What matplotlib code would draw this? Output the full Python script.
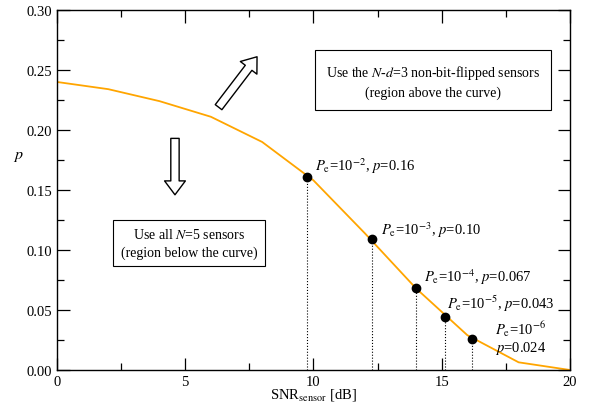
import numpy as np
import matplotlib.pyplot as plt
from matplotlib.ticker import MultipleLocator

plt.rcParams['font.family'] = ['Liberation Serif', 'DejaVu Serif']
plt.rcParams['mathtext.fontset'] = 'stix'

# curve p(SNR)
snr = [0, 2, 4, 6, 8, 10, 12, 14, 16, 18, 20]
p = [0.240, 0.234, 0.224, 0.211, 0.190, 0.158, 0.114, 0.068, 0.029, 0.0064, 0.0]

# operating points
pt_snr = [9.76, 12.27, 14.0, 15.13, 16.18]
pt_p = [0.161, 0.109, 0.068, 0.0444, 0.0258]
pt_labels = [r'$P_{\rm e}$=10$^{-2}$, $p$=0.16',
             r'$P_{\rm e}$=10$^{-3}$, $p$=0.10',
             r'$P_{\rm e}$=10$^{-4}$, $p$=0.067',
             r'$P_{\rm e}$=10$^{-5}$, $p$=0.043',
             '$P_{\\rm e}$=10$^{-6}$\n$p$=0.024']
label_xy = [(10.06, 0.167), (12.62, 0.113), (14.31, 0.074), (15.22, 0.052), (17.08, 0.016)]

fig = plt.figure(figsize=(5.9, 4.06), dpi=100)
ax = fig.add_axes([0.0966, 0.0862, 0.8694, 0.8868])

ax.plot(snr, p, color='orange', lw=1.3, zorder=2)
for x, y in zip(pt_snr, pt_p):
    ax.plot([x, x], [0, y], color='black', ls=':', lw=0.8, zorder=1)
ax.plot(pt_snr, pt_p, 'o', color='black', ms=6, zorder=3)
for (tx, ty), lab in zip(label_xy, pt_labels):
    ax.text(tx, ty, lab, fontsize=10.5, ha='left', va='baseline', linespacing=1.1)

ax.text(14.66, 0.241, 'Use the $N$-$d$=3 non-bit-flipped sensors\n(region above the curve)',
        fontsize=10, ha='center', va='center', linespacing=1.4,
        bbox=dict(boxstyle='square,pad=0.8', fc='white', ec='black', lw=0.8))
ax.text(5.15, 0.106, 'Use all $N$=5 sensors\n(region below the curve)',
        fontsize=10, ha='center', va='center', linespacing=1.4,
        bbox=dict(boxstyle='square,pad=0.55', fc='white', ec='black', lw=0.8))

arrow = dict(arrowstyle='simple,head_width=1.5,head_length=1.0,tail_width=0.6',
             fc='white', ec='black', lw=1.0, shrinkA=0, shrinkB=0)
ax.annotate('', xy=(4.6, 0.146), xytext=(4.6, 0.193), arrowprops=arrow)
ax.annotate('', xy=(7.8, 0.261), xytext=(6.3, 0.219), arrowprops=arrow)

ax.set_xlim(0, 20)
ax.set_ylim(0, 0.30)
ax.xaxis.set_major_locator(MultipleLocator(5))
ax.xaxis.set_minor_locator(MultipleLocator(2.5))
ax.yaxis.set_major_locator(MultipleLocator(0.05))
ax.yaxis.set_minor_locator(MultipleLocator(0.025))
ax.yaxis.set_major_formatter(plt.FormatStrFormatter('%.2f'))
ax.tick_params(which='both', direction='in', top=True, right=True, labelsize=10.5)
ax.tick_params(which='major', length=9, width=0.9)
ax.tick_params(which='minor', length=5, width=0.9)
for s in ax.spines.values():
    s.set_linewidth(1.0)

ax.set_xlabel(r'SNR$_{\rm sensor}$ [dB]', fontsize=10.5, labelpad=-1)
fig.text(18 / 590, 1 - 156 / 406, '$p$', fontsize=11.5, ha='center', va='center')

fig.savefig('out.png', dpi=100)
